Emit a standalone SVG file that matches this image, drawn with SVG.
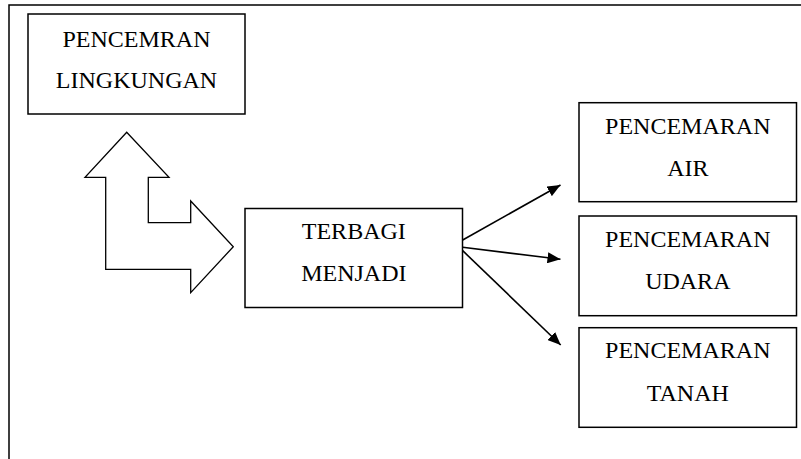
<svg xmlns="http://www.w3.org/2000/svg" width="801" height="459" viewBox="0 0 801 459">
<style>
.box{fill:#fff;stroke:#000;stroke-width:1.5}
.t{font-family:"Liberation Serif","Times New Roman",serif;font-size:24px;fill:#000;text-anchor:middle}
.edge{stroke:#000;stroke-width:1.6;fill:none}
</style>
<defs>
<marker id="ah" viewBox="0 0 13 11" refX="13" refY="5.5" markerWidth="13" markerHeight="11" markerUnits="userSpaceOnUse" orient="auto">
<path d="M0,0 L13,5.5 L0,11 Z" fill="#000"/>
</marker>
</defs>
<rect width="801" height="459" fill="#fff"/>
<g id="frame">
<path d="M9,459 V5 H801" fill="none" stroke="#000" stroke-width="1.5"/>
</g>
<g id="node-lingkungan">
<rect class="box" x="28" y="14" width="217" height="100"/>
<text class="t" x="136.5" y="46.5">PENCEMRAN</text>
<text class="t" x="136.5" y="87.5">LINGKUNGAN</text>
</g>
<g id="node-bent-arrow">
<path d="M126.7,132.3 L169,177.3 L148.3,177.3 L148.3,222.7 L190.7,222.7 L190.7,201 L233.3,246.7 L190.7,292.7 L190.7,269.3 L105.7,269.3 L105.7,177.3 L85,177.3 Z" fill="#fff" stroke="#000" stroke-width="1.3" stroke-linejoin="miter"/>
</g>
<g id="node-terbagi">
<rect class="box" x="245" y="208.5" width="217.5" height="99"/>
<text class="t" x="353.8" y="239">TERBAGI</text>
<text class="t" x="353.8" y="280.5">MENJADI</text>
</g>
<g id="node-air">
<rect class="box" x="579" y="102.7" width="217.5" height="99"/>
<text class="t" x="687.8" y="134">PENCEMARAN</text>
<text class="t" x="687.8" y="176">AIR</text>
</g>
<g id="node-udara">
<rect class="box" x="579" y="216" width="217.5" height="99.7"/>
<text class="t" x="687.8" y="247.3">PENCEMARAN</text>
<text class="t" x="687.8" y="289.3">UDARA</text>
</g>
<g id="node-tanah">
<rect class="box" x="579" y="327.7" width="217.5" height="99.6"/>
<text class="t" x="687.8" y="358.3">PENCEMARAN</text>
<text class="t" x="687.8" y="401">TANAH</text>
</g>
<g id="connectors">
<line class="edge" x1="462.7" y1="240" x2="560.5" y2="185" marker-end="url(#ah)"/>
<line class="edge" x1="462.7" y1="247.3" x2="560.5" y2="259.3" marker-end="url(#ah)"/>
<line class="edge" x1="462.7" y1="250.7" x2="560.7" y2="345" marker-end="url(#ah)"/>
</g>
</svg>
